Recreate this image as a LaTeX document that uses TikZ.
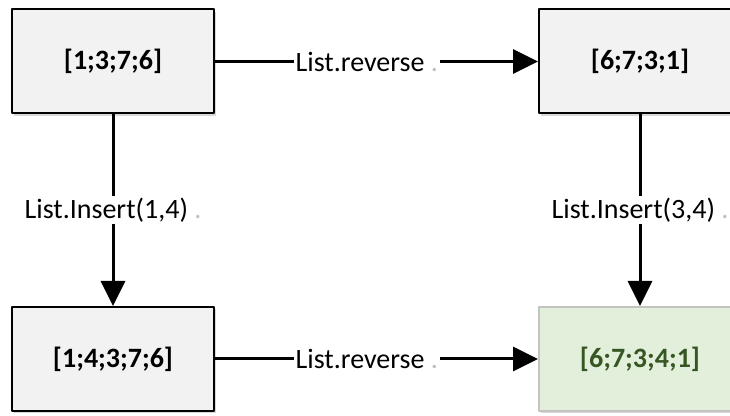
\documentclass[tikz,border=0pt]{standalone}
\usepackage{fontspec}
\setmainfont{Carlito}
\usetikzlibrary{arrows.meta,shadows}
\definecolor{boxgray}{HTML}{F2F2F2}
\definecolor{boxgreen}{HTML}{E2EFDA}
\definecolor{textgreen}{HTML}{375623}
\definecolor{edgegreen}{HTML}{C3C3C3}
\begin{document}
\begin{tikzpicture}[x=0.5pt,y=-0.5pt,line join=round,>={Triangle[length=12.5pt,width=12pt]},
        listbox/.style={draw=black,line width=1pt,fill=boxgray,minimum width=101pt,minimum height=52pt,
            font=\bfseries\fontsize{14}{16}\selectfont,
            drop shadow={shadow xshift=1.2pt,shadow yshift=-1.2pt,opacity=.3}},
        resultbox/.style={listbox,draw=edgegreen,fill=boxgreen,text=textgreen},
        op/.style={fill=white,font=\fontsize{14}{16}\selectfont,inner sep=1pt},
        flow/.style={->,line width=1.5pt}]
            \useasboundingbox (0,0) rectangle (730,416);
            \node[listbox] (orig) at (113,61.5) {[1;3;7;6]};
            \node[listbox] (rev) at (640,61.5) {[6;7;3;1]};
            \node[listbox] (ins) at (113,359) {[1;4;3;7;6]};
            \node[resultbox] (res) at (640,359) {[6;7;3;4;1]};
            % reverse first, then insert
            \draw[flow] (orig) -- node[op,pos=.47]{List.reverse {\color{lightgray}.}} (rev);
            \draw[flow] (rev) -- node[op]{List.Insert(3,4) {\color{lightgray}.}} (res);
            % insert first, then reverse
            \draw[flow] (orig) -- node[op]{List.Insert(1,4) {\color{lightgray}.}} (ins);
            \draw[flow] (ins) -- node[op,pos=.47]{List.reverse {\color{lightgray}.}} (res);
        \end{tikzpicture}
\end{document}
